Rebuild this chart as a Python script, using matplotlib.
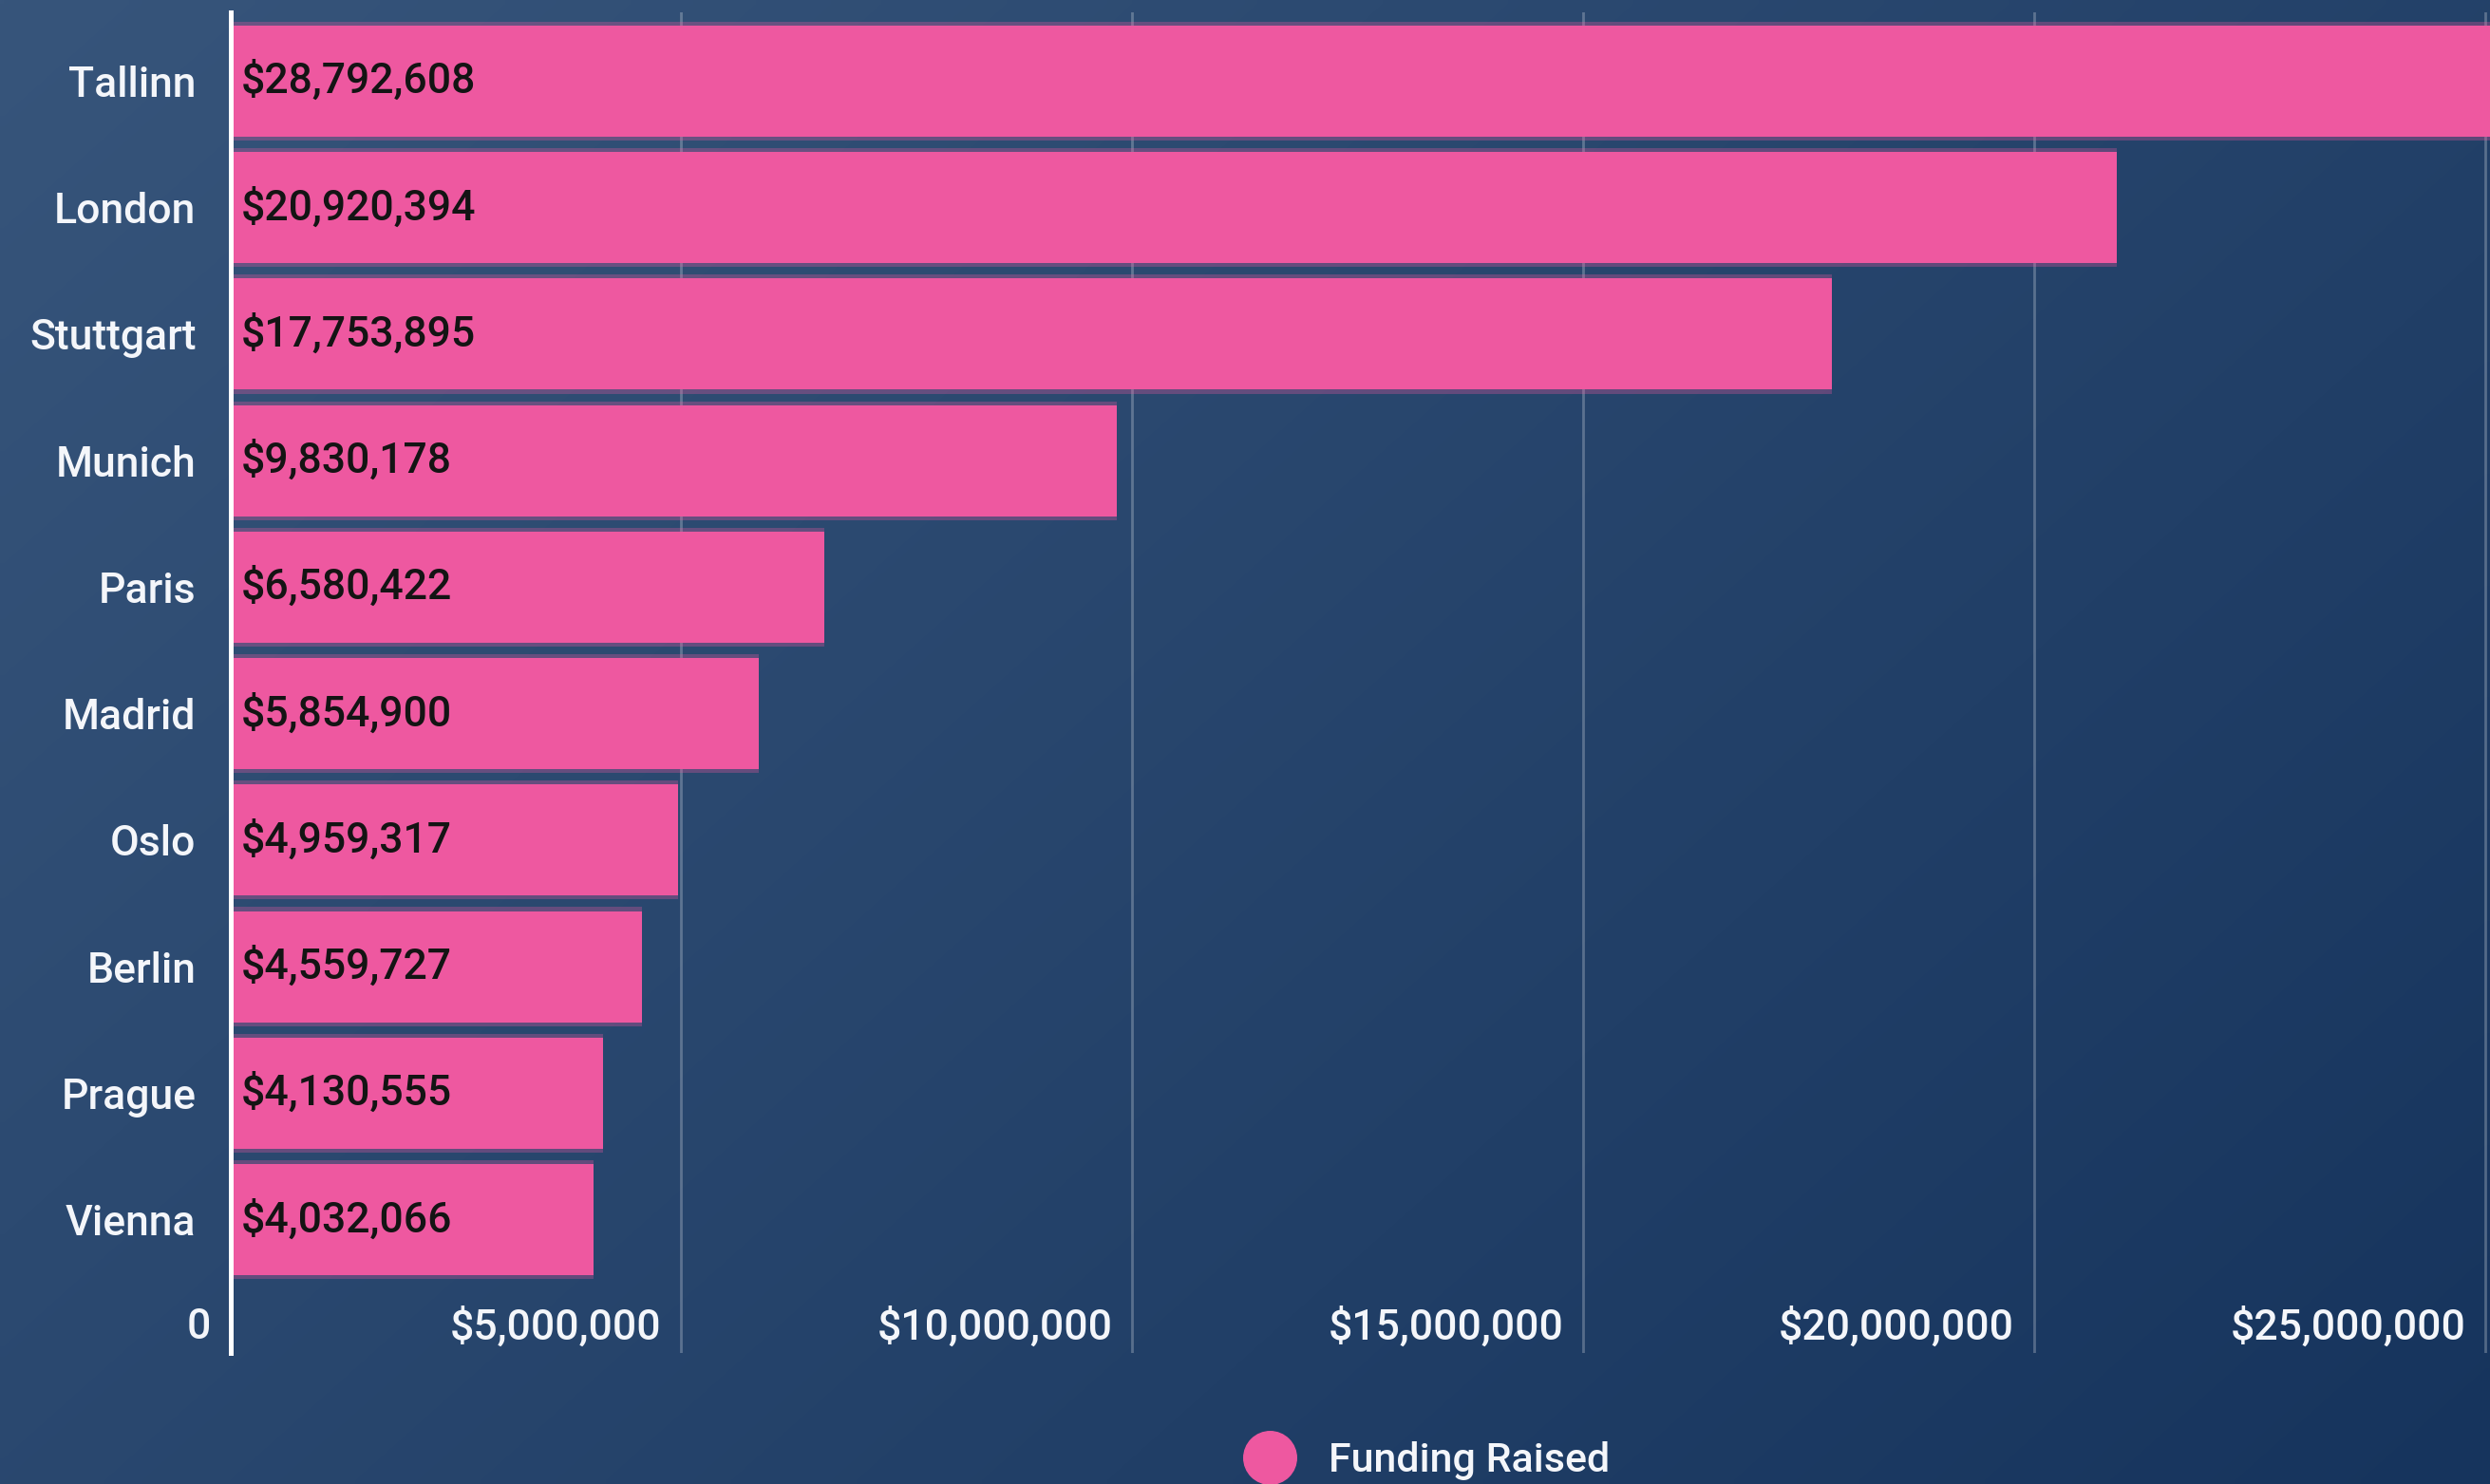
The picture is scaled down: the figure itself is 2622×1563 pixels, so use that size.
import numpy as np
import matplotlib
matplotlib.use("Agg")
import matplotlib.pyplot as plt
from matplotlib import transforms
from matplotlib.colors import to_rgb
from matplotlib.lines import Line2D

plt.rcParams["font.family"] = ["Roboto", "DejaVu Sans"]
plt.rcParams["font.weight"] = "medium"

# data
cities = ["Tallinn", "London", "Stuttgart", "Munich", "Paris",
          "Madrid", "Oslo", "Berlin", "Prague", "Vienna"]
funding = [28792608, 20920394, 17753895, 9830178, 6580422,
           5854900, 4959317, 4559727, 4130555, 4032066]
tick_values = [0, 5000000, 10000000, 15000000, 20000000, 25000000]
series_name = "Funding Raised"

PINK = "#ee58a0"
TEXT = "#f4f6fa"

fig = plt.figure(figsize=(26.22, 15.63), dpi=100)

# background gradient, lighter top-left to darker bottom-right
bg = fig.add_axes([0, 0, 1, 1], zorder=-10)
bg.set_axis_off()
c0 = np.array(to_rgb("#37557b"))
c1 = np.array(to_rgb("#16345d"))
gx, gy = np.meshgrid(np.linspace(0, 1, 300), np.linspace(0, 1, 200))
t = np.clip(gx * 0.6 + gy * 0.4, 0, 1)[..., None]
bg.imshow(c0 * (1 - t) + c1 * t, aspect="auto", extent=[0, 1, 0, 1],
          origin="upper", interpolation="bilinear")

ax = fig.add_axes([0.0925, 0.0886, 0.9075, 0.9028])
ax.set_facecolor("none")

y = np.arange(len(cities))
# faint halo above/below each bar, then the bar itself
ax.barh(y, funding, height=0.94, color=PINK, alpha=0.3, zorder=2, linewidth=0)
ax.barh(y, funding, height=0.878, color=PINK, zorder=3, linewidth=0)

for i, v in enumerate(funding):
    ax.annotate(f"${v:,}", xy=(0, i), xytext=(8, 0), textcoords="offset points",
                va="center", ha="left", fontsize=32, color="#141414", zorder=4)

ax.set_xlim(0, 25053000)
ax.set_ylim(10.05, -0.54)

ax.set_yticks(y)
ax.set_yticklabels(cities)
ax.tick_params(axis="y", length=0, pad=26, labelsize=32, labelcolor=TEXT)
ax.set_xticks(tick_values)
ax.tick_params(axis="x", length=0, labelbottom=False)
ax.grid(axis="x", color="white", alpha=0.25, linewidth=2, zorder=1)
ax.set_axisbelow(True)

for s in ["top", "right", "bottom"]:
    ax.spines[s].set_visible(False)
ax.spines["left"].set_color("white")
ax.spines["left"].set_linewidth(3.6)
ax.spines["left"].set_zorder(5)

# x tick labels sit inside the plot, right-aligned against each gridline
trans = transforms.offset_copy(
    transforms.blended_transform_factory(ax.transData, ax.transAxes),
    fig=fig, x=-15, y=0, units="points")
for v in tick_values:
    lab = "0" if v == 0 else f"${v:,}"
    ax.text(v, 0.019, lab, transform=trans, ha="right", va="center",
            fontsize=32, color=TEXT, clip_on=False)

handle = Line2D([], [], marker="o", linestyle="", color=PINK, markersize=40)
fig.legend([handle], [series_name], loc="center", bbox_to_anchor=(0.573, 0.0154),
           frameon=False, fontsize=31, labelcolor=TEXT,
           handlelength=1.3, handletextpad=0.78, borderpad=0)

fig.savefig("out.png", dpi=100)
